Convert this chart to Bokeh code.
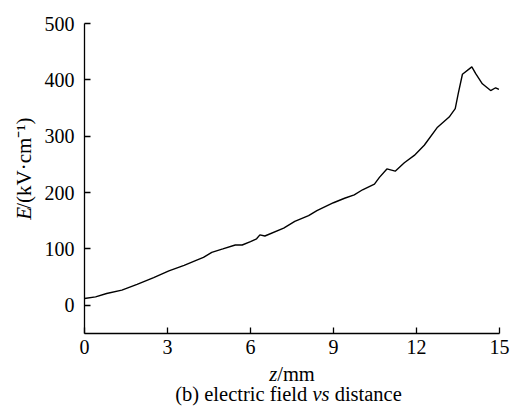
import math
from bokeh.plotting import figure
from bokeh.models import Range1d, FixedTicker
from bokeh.layouts import row, column
from bokeh.core.properties import value
from bokeh.embed import file_html
from bokeh.resources import INLINE

# data
z_mm = [0, 0.4, 0.8, 1.35, 1.9, 2.5, 3.05, 3.6, 4.1, 4.3, 4.6, 5.0, 5.45, 5.7,
        6.0, 6.22, 6.34, 6.52, 7.2, 7.6, 8.1, 8.4, 9.0, 9.4, 9.75, 10.05, 10.48,
        10.66, 10.93, 11.23, 11.56, 11.92, 12.28, 12.76, 13.18, 13.4, 13.51,
        13.66, 14.0, 14.14, 14.38, 14.68, 14.86, 14.98]
E_kv = [12, 15, 21, 27, 37, 49, 61, 71, 81, 85, 94, 100, 107, 107,
        113, 118, 125, 123, 137, 149, 159, 168, 182, 190, 196, 205, 215,
        227, 242, 238, 253, 266, 284, 316, 334, 349, 376,
        410, 423, 411, 393, 381, 386, 383]
x_ticks = [0, 3, 6, 9, 12, 15]
y_ticks = [0, 100, 200, 300, 400, 500]

FONT = "Liberation Serif"
LS = 21          # y label font size, px
CS = 20.5        # x label / caption font size, px
W, H = 511, 406
LW = 40          # width of the y-label strip
MH = 362         # height of the main plot row
CH = H - MH      # height of the caption strip
BS = 8           # baseline correction, px


def blank(width, height):
    f = figure(width=width, height=height, output_backend="svg",
               toolbar_location=None, x_axis_location=None,
               y_axis_location=None, x_range=Range1d(0, width),
               y_range=Range1d(0, height), min_border=0)
    f.outline_line_color = None
    f.grid.visible = False
    f.background_fill_color = "white"
    f.border_fill_color = "white"
    return f


def txt(f, text, x, y, italic=False, size=LS, angle=0.0):
    f.text(x=[x], y=[y], text=[text], text_font=value(FONT),
           text_font_size=value(f"{size}px"),
           text_font_style="italic" if italic else "normal",
           text_color="black", text_align="left",
           text_baseline="alphabetic", angle=angle)


# ---- main plot ----
p = figure(width=W - LW, height=MH, output_backend="svg", toolbar_location=None,
           x_range=Range1d(0, 15), y_range=Range1d(-50, 500),
           min_border_left=84 - LW, min_border_right=12, min_border_top=23,
           min_border_bottom=MH - 333)
p.outline_line_color = None
p.grid.visible = False
p.background_fill_color = "white"
p.border_fill_color = "white"

p.line(z_mm, E_kv, line_color="black", line_width=1.4)

for ax, ticks in ((p.xaxis[0], x_ticks), (p.yaxis[0], y_ticks)):
    ax.ticker = FixedTicker(ticks=ticks)
    ax.major_tick_in = 6
    ax.major_tick_out = 0
    ax.minor_tick_line_color = None
    ax.axis_line_color = "black"
    ax.axis_line_width = 1.3
    ax.major_tick_line_color = "black"
    ax.major_tick_line_width = 1.3
    ax.major_label_text_font = FONT
    ax.major_label_text_font_size = "20px"
    ax.major_label_text_color = "black"
p.xaxis.major_label_standoff = 6
p.yaxis.major_label_standoff = 10

# ---- y label strip: E/(kV·cm^-1), rotated ----
yl = blank(LW, MH)
em = LS
bx = 31.7 - BS                 # baseline, page x
total = 0.611 * em + 4.27 * em
start = 178 + total / 2        # page y of the text start (bottom)
y0 = MH - start
rot = math.pi / 2
txt(yl, "E", bx, y0, italic=True, angle=rot)
txt(yl, "/(kV\u00b7cm\u207b\u00b9)", bx, y0 + 0.611 * em, angle=rot)

# ---- caption strip: z/mm and (b) electric field vs distance ----
cap = blank(W, CH)
ce = CS
zx = 291.5 - (0.389 + 1.834) * ce / 2
zy = H - 381 + BS
txt(cap, "z", zx, zy, italic=True, size=CS)
txt(cap, "/mm", zx + 0.389 * ce, zy, size=CS)

cx = 288 - 11.05 * ce / 2
cy = H - 401.5 + BS
txt(cap, "(b) electric field", cx, cy, size=CS)
vx = cx + 6.692 * ce
txt(cap, "vs", vx, cy, italic=True, size=CS)
txt(cap, "distance", vx + 1.083 * ce, cy, size=CS)

layout = column(row(yl, p), cap)
open("out.html", "w").write(file_html(layout, INLINE))
